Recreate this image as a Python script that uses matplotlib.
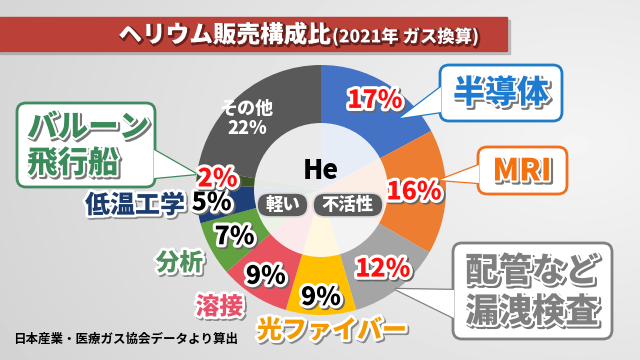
import matplotlib
matplotlib.use("Agg")
import matplotlib.pyplot as plt
import matplotlib.patheffects as pe
from matplotlib.patches import Rectangle, FancyBboxPatch, Polygon, Circle
import numpy as np

plt.rcParams['font.family'] = ['Noto Sans CJK JP', 'DejaVu Sans']

# data
names = ["半導体", "MRI", "配管など漏洩検査", "光ファイバー", "溶接", "分析", "低温工学", "バルーン飛行船", "その他"]
shares = [17, 16, 12, 9, 9, 7, 5, 2, 22]
colors = ["#4472C4", "#ED7D31", "#A5A5A5", "#FFC000", "#E8535F", "#62A140", "#1F3F78", "#3D5526", "#595959"]
pct_colors = ["#FF1010", "#FF1010", "#FF1010", "black", "black", "black", "black", "#FF1010", "white"]
pct_radius = [105, 93, 100, 107, 102, 98, 110, 104, 112]

title = "ヘリウム販売構成比"
subtitle = "(2021年 ガス換算)"
source = "日本産業・医療ガス協会データより算出"

cx, cy, R = 321, 190, 125

fig = plt.figure(figsize=(6.4, 3.6), dpi=100)
ax = fig.add_axes([0, 0, 1, 1])
ax.set_xlim(0, 640)
ax.set_ylim(360, 0)
ax.axis('off')

# background gradient
gx = np.linspace(0, 1, 200)
gy = np.linspace(0, 1, 120)
GX, GY = np.meshgrid(gx, gy)
bg = 0.83 + 0.13 * np.clip(1 - np.hypot(GX - 0.9, (GY - 0.4) * 0.8), 0, 1)
ax.imshow(bg, cmap='gray', vmin=0, vmax=1, extent=(0, 640, 360, 0), aspect='auto', zorder=0)

# title bar
ax.add_patch(Rectangle((0, 20), 510, 34, color='#777777', alpha=0.35, zorder=1))
ax.add_patch(Rectangle((0, 17), 507, 34, color='#BA4038', zorder=2))
t_sh = [pe.Stroke(linewidth=2, foreground='#6a1f1a', offset=(1, -1)), pe.Normal()]
ax.text(331, 35, title, color='white', fontsize=17, fontweight='heavy', ha='right', va='center', zorder=3, path_effects=t_sh)
ax.text(332, 37, subtitle, color='white', fontsize=12.5, fontweight='heavy', ha='left', va='center', zorder=3, path_effects=t_sh)

# donut
wedges, _ = ax.pie(shares, colors=colors, startangle=-90, counterclock=True, radius=R,
                   center=(cx, cy), frame=True, wedgeprops=dict(linewidth=0))
for w in wedges:
    w.set_zorder(4)
ax.set_xlim(0, 640)
ax.set_ylim(360, 0)
ax.set_aspect('equal')
ax.axis('off')
ax.add_patch(Circle((cx, cy), 67, facecolor='white', alpha=0.88, edgecolor='none', zorder=5))

out_pe = [pe.Stroke(linewidth=4.5, foreground='#666666', offset=(1.2, -1.2)),
          pe.Stroke(linewidth=4.5, foreground='white'), pe.Normal()]
total = sum(shares)
acc = 0
for i, v in enumerate(shares):
    mid = (acc + v / 2) / total * 2 * np.pi
    acc += v
    x = cx + pct_radius[i] * np.sin(mid)
    y = cy - pct_radius[i] * np.cos(mid)
    if names[i] == "その他":
        ax.text(x - 2, y + 14, f"その他\n{v}%", color='white', fontsize=13, fontweight='heavy',
                ha='center', va='center', linespacing=1.1, zorder=6)
    else:
        ax.text(x, y, f"{v}%", color=pct_colors[i], fontsize=18, fontweight='heavy',
                ha='center', va='center', zorder=6, path_effects=out_pe)

# center
ax.text(cx, 171, "He", fontsize=19, fontweight='heavy', color='black', ha='center', va='center', zorder=6)
for label, x0, w in [("軽い", 257, 51), ("不活性", 313, 70)]:
    ax.add_patch(FancyBboxPatch((x0, 193), w, 24, boxstyle="round,pad=0,rounding_size=12",
                                facecolor='#5b5b5b', edgecolor='#dddddd', linewidth=1.2, zorder=6))
    ax.text(x0 + w / 2, 205, label, color='white', fontsize=12.5, fontweight='heavy',
            ha='center', va='center', zorder=7)


def callout(x0, y0, w, h, tail, edge, lines, tx, ty, color, size, ha='center'):
    ax.add_patch(Polygon(tail, closed=True, facecolor='white', edgecolor=edge, linewidth=1.8, zorder=7))
    ax.add_patch(FancyBboxPatch((x0, y0), w, h, boxstyle="round,pad=0,rounding_size=9",
                                facecolor='white', edgecolor=edge, linewidth=2, zorder=7))
    ax.add_patch(Polygon(tail, closed=True, facecolor='white', edgecolor='none', zorder=8))
    tpe = [pe.Stroke(linewidth=3, foreground='#777777', offset=(1.5, -1.5)),
           pe.Stroke(linewidth=3, foreground='white'), pe.Normal()]
    ax.text(tx, ty, lines, color=color, fontsize=size, fontweight='heavy', ha=ha, va='center',
            linespacing=1.2, zorder=9, path_effects=tpe)


callout(440, 65, 122, 56, [(441, 87), (441, 112), (400, 118)], '#1E7CC8', names[0], 501, 93, '#1E7BD0', 23)
callout(478, 147, 89, 47, [(479, 165), (479, 183), (440, 180)], '#F07020', names[1], 522, 171, '#F5700F', 22)
callout(453, 243, 159, 96, [(454, 290), (454, 318), (395, 289)], '#808080', "配管など\n漏洩検査", 532, 291, '#7F7F7F', 24)
callout(17, 103, 138, 84, [(154, 150), (154, 178), (196, 174)], '#3F8A5E', "バルーン\n飛行船", 27, 145, '#3B8A5A', 22, ha='left')

lab_pe = [pe.Stroke(linewidth=4, foreground='#888888', offset=(1.2, -1.2)),
          pe.Stroke(linewidth=4, foreground='white'), pe.Normal()]
ax.text(185, 205, names[6], color='#1C3C6E', fontsize=18, fontweight='heavy', ha='right', va='center', zorder=9, path_effects=lab_pe)
ax.text(203, 263, names[5], color='#4E8F5B', fontsize=17, fontweight='heavy', ha='right', va='center', zorder=9, path_effects=lab_pe)
ax.text(243, 307, names[4], color='#E8506A', fontsize=17, fontweight='heavy', ha='right', va='center', zorder=9, path_effects=lab_pe)
ax.text(332, 330, names[3], color='#F39A00', fontsize=18, fontweight='heavy', ha='center', va='center', zorder=9, path_effects=lab_pe)

ax.text(13, 339, source, color='black', fontsize=9, fontweight='bold', ha='left', va='center', zorder=9)

fig.savefig("out.png", dpi=100)
